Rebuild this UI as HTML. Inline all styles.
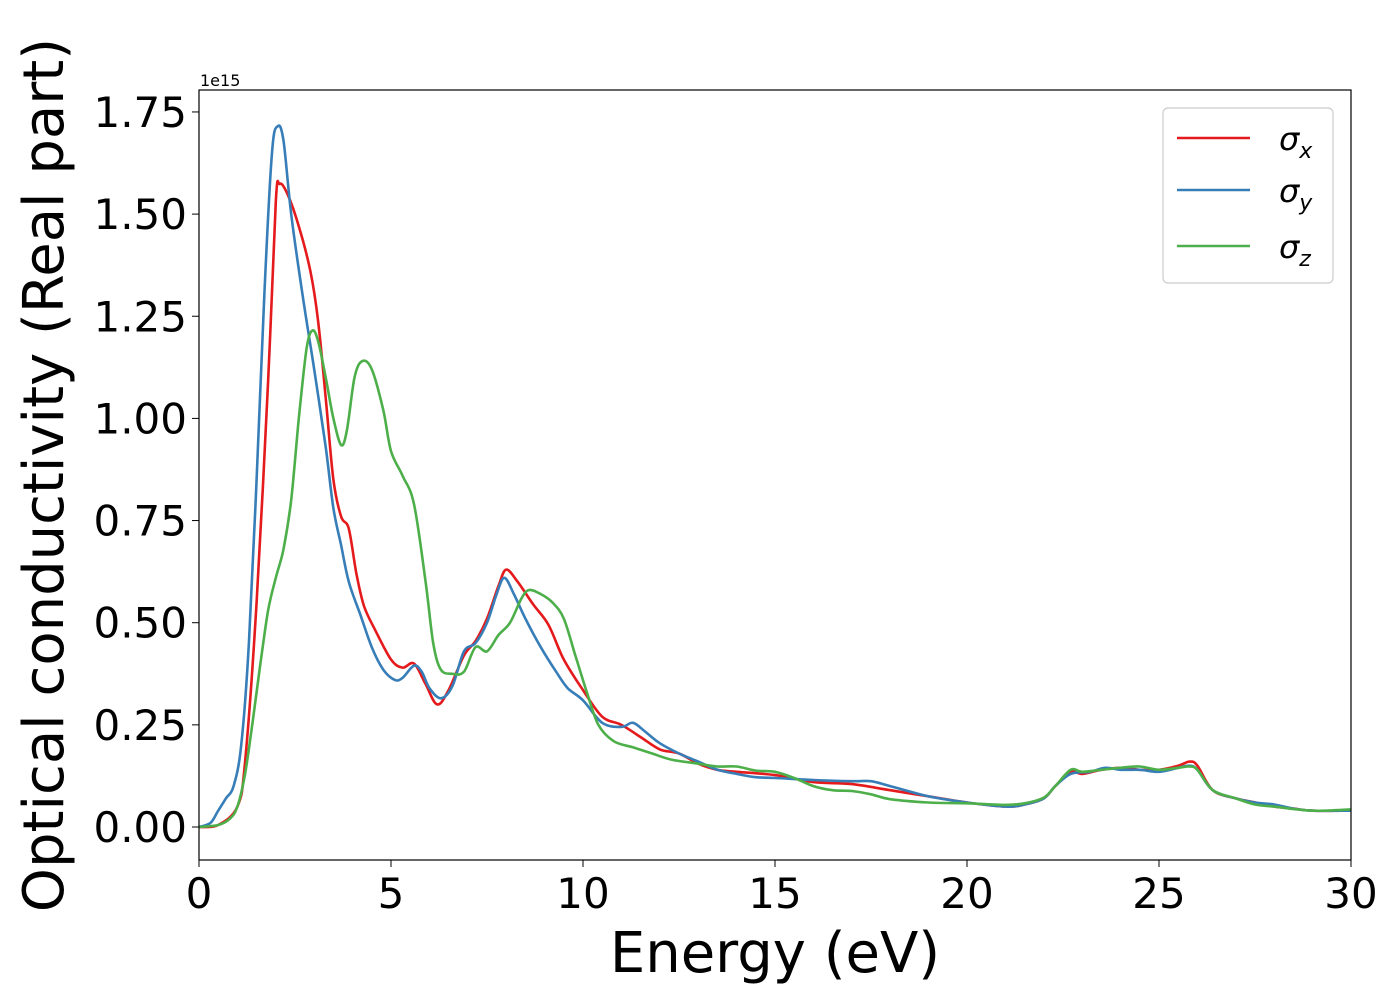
<!DOCTYPE html>
<html><head><meta charset="utf-8">
<style>
html,body{margin:0;padding:0;background:#fff;}
svg text{font-family:"DejaVu Sans","Liberation Sans",sans-serif;fill:#000;}
</style></head>
<body>
<svg id="chart" width="1400" height="1000" viewBox="0 0 1400 1000" xmlns="http://www.w3.org/2000/svg">
<rect width="1400" height="1000" fill="#fff"/>
<g id="plot"></g>
<rect x="199" y="90" width="1152" height="770" fill="none" stroke="#000" stroke-width="1.2"/>
<g id="axes"></g>
<text x="200" y="86" font-size="16">1e15</text>
<text x="775" y="972" font-size="56" text-anchor="middle">Energy (eV)</text>
<text transform="translate(63,475) rotate(-90)" font-size="56" text-anchor="middle">Optical conductivity (Real part)</text>
<g>
<rect x="1163" y="108" width="170" height="175" rx="5" fill="#fff" stroke="#ccc" stroke-width="1.2"/>
<g>
<line x1="1177" y1="138" x2="1250" y2="138" stroke="#e41a1c" stroke-width="2.6"/>
<text x="1279" y="150" font-size="32" font-style="italic">σ<tspan font-size="22" dy="8">x</tspan></text></g>
<g>
<line x1="1177" y1="190" x2="1250" y2="190" stroke="#377eb8" stroke-width="2.6"/>
<text x="1279" y="202" font-size="32" font-style="italic">σ<tspan font-size="22" dy="8">y</tspan></text></g>
<g>
<line x1="1177" y1="246" x2="1250" y2="246" stroke="#4daf4a" stroke-width="2.6"/>
<text x="1279" y="258" font-size="32" font-style="italic">σ<tspan font-size="22" dy="8">z</tspan></text></g>
</g>
</svg>
<script>
const xTicks=[0,5,10,15,20,25,30];
const yTicks=[0,0.25,0.5,0.75,1.0,1.25,1.5,1.75];
const yTickLabels=["0.00","0.25","0.50","0.75","1.00","1.25","1.50","1.75"];
const sxE=[0,0.5,1.0,1.2,1.5,1.8,2.0,2.1,2.3,2.6,2.9,3.1,3.3,3.5,3.7,3.9,4.1,4.3,4.6,5.0,5.3,5.6,5.9,6.2,6.5,6.9,7.2,7.5,7.8,8.0,8.3,8.7,9.1,9.5,10,10.5,11,11.5,12,12.5,13,13.5,14,15,16,17,18,19,20,21,21.5,22,22.3,22.7,23,23.5,24,24.5,25,25.5,25.8,26,26.4,27,27.5,28,28.5,29,30];
const sxV=[0,0.005,0.05,0.16,0.55,1.09,1.53,1.574,1.55,1.47,1.36,1.24,1.05,0.85,0.76,0.73,0.62,0.54,0.48,0.41,0.39,0.40,0.35,0.30,0.335,0.42,0.455,0.51,0.59,0.63,0.60,0.545,0.495,0.41,0.335,0.27,0.25,0.22,0.19,0.18,0.155,0.14,0.135,0.127,0.11,0.105,0.09,0.075,0.06,0.05,0.055,0.07,0.1,0.135,0.13,0.14,0.145,0.14,0.14,0.15,0.16,0.15,0.09,0.07,0.06,0.05,0.045,0.04,0.04];
const syE=[0,0.3,0.5,0.7,0.9,1.1,1.3,1.5,1.7,1.9,2.05,2.2,2.4,2.7,3.0,3.3,3.5,3.7,3.9,4.2,4.5,4.8,5.1,5.3,5.6,5.8,6.0,6.3,6.6,6.9,7.2,7.5,7.75,7.95,8.2,8.5,8.9,9.3,9.6,10,10.5,11,11.3,11.6,12,12.5,13,13.5,14,14.5,15,16,17,17.5,18,19,20,21,21.5,22,22.3,22.7,23.2,23.6,24,24.5,25,25.5,25.8,26,26.4,27,27.5,28,28.5,29,30];
const syV=[0,0.01,0.04,0.07,0.10,0.2,0.45,0.85,1.3,1.65,1.715,1.68,1.5,1.3,1.12,0.93,0.78,0.69,0.6,0.52,0.44,0.385,0.36,0.365,0.395,0.38,0.34,0.315,0.345,0.43,0.45,0.5,0.57,0.61,0.57,0.51,0.44,0.38,0.34,0.31,0.255,0.245,0.255,0.235,0.205,0.18,0.16,0.14,0.13,0.122,0.12,0.115,0.112,0.112,0.1,0.075,0.06,0.05,0.055,0.07,0.1,0.13,0.135,0.145,0.14,0.14,0.135,0.145,0.15,0.14,0.09,0.07,0.06,0.055,0.045,0.04,0.04];
const szE=[0,0.5,0.8,1.0,1.2,1.4,1.6,1.8,2.0,2.2,2.4,2.6,2.8,2.95,3.1,3.3,3.5,3.7,3.85,4.05,4.25,4.5,4.8,5.0,5.3,5.6,5.9,6.1,6.3,6.6,6.9,7.2,7.5,7.8,8.1,8.4,8.6,8.9,9.2,9.5,9.8,10.1,10.4,10.8,11.3,11.8,12.3,13,13.5,14,14.5,15,15.5,16,16.5,17,17.5,18,19,20,21,21.5,22,22.3,22.7,23,23.5,24,24.5,25,25.5,25.8,26,26.4,27,27.5,28,29,30];
const szV=[0,0.005,0.02,0.05,0.13,0.26,0.4,0.53,0.61,0.68,0.8,1.0,1.17,1.215,1.19,1.1,1.0,0.935,0.97,1.1,1.14,1.12,1.02,0.92,0.86,0.79,0.6,0.45,0.385,0.375,0.38,0.44,0.43,0.47,0.5,0.56,0.58,0.57,0.55,0.51,0.42,0.33,0.25,0.21,0.195,0.18,0.165,0.155,0.148,0.148,0.138,0.135,0.12,0.1,0.09,0.088,0.08,0.068,0.06,0.058,0.054,0.058,0.072,0.1,0.14,0.135,0.14,0.145,0.148,0.14,0.145,0.148,0.14,0.09,0.07,0.055,0.05,0.04,0.043];

const X0=199,X1=1351,XMIN=0,XMAX=30;
const Y0=827,PXU=408.6;
function xs(e){return X0+(e-XMIN)/(XMAX-XMIN)*(X1-X0);}
function ys(v){return Y0-v*PXU;}
const NS="http://www.w3.org/2000/svg";
const plot=document.getElementById('plot'),axes=document.getElementById('axes');
function smoothPath(E,V){
  const p=E.map((e,i)=>[xs(e),ys(V[i])]);
  let d="M"+p[0][0].toFixed(1)+","+p[0][1].toFixed(1);
  for(let i=0;i<p.length-1;i++){
    const a=p[Math.max(0,i-1)],b=p[i],c=p[i+1],n=p[Math.min(p.length-1,i+2)];
    const c1=[b[0]+(c[0]-a[0])/6,b[1]+(c[1]-a[1])/6],c2=[c[0]-(n[0]-b[0])/6,c[1]-(n[1]-b[1])/6];
    d+=" C"+c1[0].toFixed(1)+","+c1[1].toFixed(1)+" "+c2[0].toFixed(1)+","+c2[1].toFixed(1)+" "+c[0].toFixed(1)+","+c[1].toFixed(1);
  }
  return d;
}
[[sxE,sxV,"#e41a1c","sigma-x-line"],[syE,syV,"#377eb8","sigma-y-line"],[szE,szV,"#4daf4a","sigma-z-line"]].forEach(s=>{
  const path=document.createElementNS(NS,'path');
  path.setAttribute('d',smoothPath(s[0],s[1]));
  path.setAttribute('fill','none');path.setAttribute('stroke',s[2]);path.setAttribute('stroke-width','2.6');
  
  
  plot.appendChild(path);
});
xTicks.forEach(t=>{
  const l=document.createElementNS(NS,'line');
  l.setAttribute('x1',xs(t));l.setAttribute('x2',xs(t));l.setAttribute('y1',860);l.setAttribute('y2',867);l.setAttribute('stroke','#000');
  
  
  axes.appendChild(l);
  const tx=document.createElementNS(NS,'text');
  tx.setAttribute('x',xs(t));tx.setAttribute('y',908);tx.setAttribute('font-size','42');tx.setAttribute('text-anchor','middle');
  tx.textContent=String(t);
  
  
  axes.appendChild(tx);
});
yTicks.forEach((t,i)=>{
  const l=document.createElementNS(NS,'line');
  l.setAttribute('x1',192);l.setAttribute('x2',199);l.setAttribute('y1',ys(t));l.setAttribute('y2',ys(t));l.setAttribute('stroke','#000');
  
  
  axes.appendChild(l);
  const tx=document.createElementNS(NS,'text');
  tx.setAttribute('x',187);tx.setAttribute('y',ys(t)+15);tx.setAttribute('font-size','42');tx.setAttribute('text-anchor','end');
  tx.textContent=yTickLabels[i];
  
  
  axes.appendChild(tx);
});
</script>
</body></html>
